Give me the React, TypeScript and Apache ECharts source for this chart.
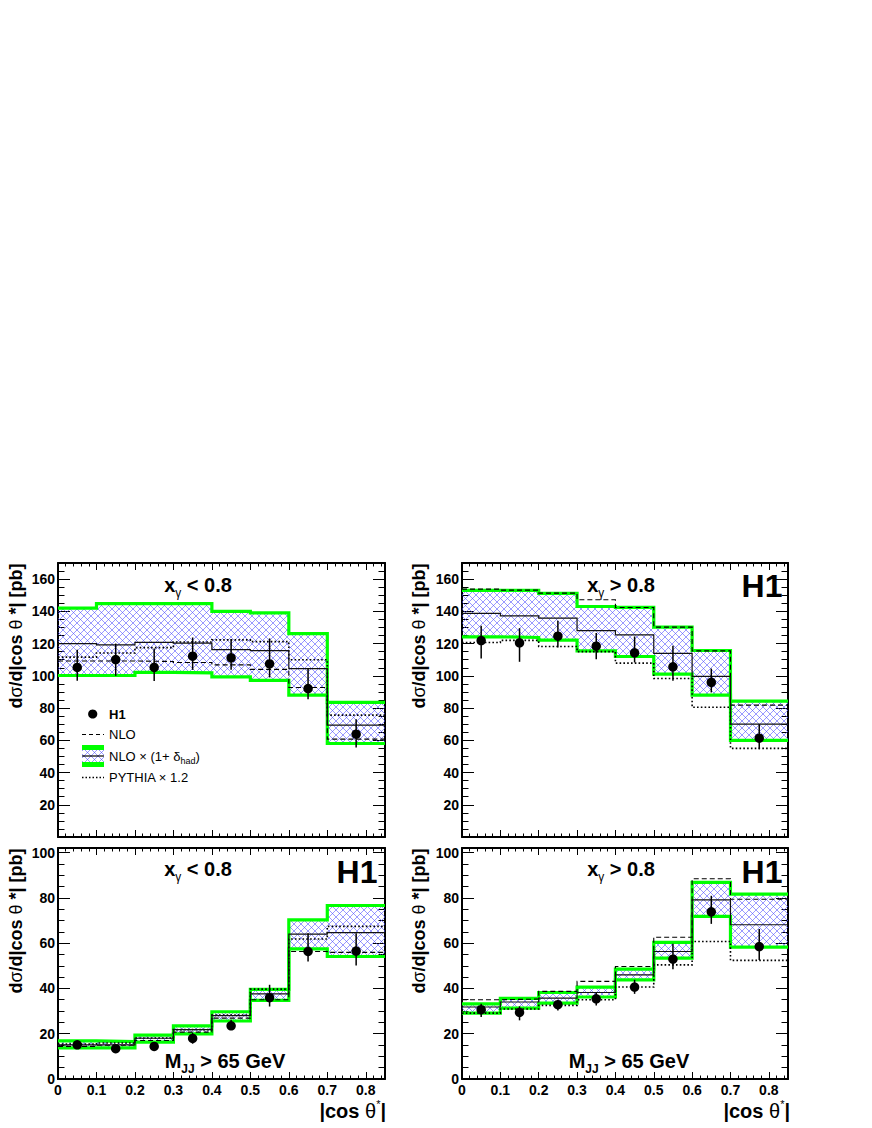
import React, { useEffect, useRef } from "react";
import * as echarts from "echarts";

// ---------------- data ----------------
const binEdges = [0, 0.1, 0.2, 0.3, 0.4, 0.5, 0.6, 0.7, 0.85];
const binCenters = [0.05, 0.15, 0.25, 0.35, 0.45, 0.55, 0.65, 0.775];

// panel 1: x_gamma < 0.8 (all M_JJ)
const p1BandUp = [142, 144.8, 144.8, 144.8, 140, 139, 126.2, 83.5];
const p1BandLo = [100.2, 100.2, 102.2, 101.8, 99.3, 97.2, 88, 58];
const p1NloHad = [120, 119.2, 120.8, 120.3, 116.3, 115.6, 104.5, 69.4];
const p1Nlo = [109.2, 109.2, 108.9, 108.3, 106.8, 104, 92.8, 60.7];
const p1Pythia = [111.6, 114.2, 117.5, 121, 122.3, 121.2, 110, 75.6];
const p1H1 = [105.2, 110.1, 105.3, 112.2, 111.2, 107.4, 92.1, 63.8];
const p1ErrHi = [116.1, 120, 117, 123.8, 122.8, 123.2, 104.5, 73];
const p1ErrLo = [96.9, 100, 96.8, 103.7, 103.7, 99, 85.5, 55.5];

// panel 2: x_gamma > 0.8 (all M_JJ)
const p2BandUp = [153, 153, 151.1, 143, 142.5, 130.2, 115.7, 84.3];
const p2BandLo = [124.2, 123.8, 122.1, 115.5, 112, 101, 88, 60];
const p2NloHad = [138.7, 137.2, 135.8, 128, 125.4, 113.9, 99.6, 70];
const p2Nlo = [153.8, 153.2, 151.3, 147.2, 142.4, 130.2, 115.5, 81.8];
const p2Pythia = [120.7, 122, 118.2, 115, 107.9, 98.3, 80.5, 55];
const p2H1 = [121.9, 120.5, 124.6, 118.4, 114.3, 105.6, 96, 61.3];
const p2ErrHi = [131, 129.6, 134.1, 126.5, 124.4, 118.6, 104.5, 70];
const p2ErrLo = [110.8, 108.7, 117.6, 110.3, 108.3, 96.9, 89.7, 54.5];

// panel 3: x_gamma < 0.8, M_JJ > 65 GeV
const p3BandUp = [16.8, 16.5, 19.4, 23.5, 29.7, 39.6, 70.3, 76.6];
const p3BandLo = [13.7, 13.7, 16.3, 19.9, 25.6, 34.7, 57.5, 54.1];
const p3NloHad = [15.1, 15.1, 18, 21.8, 28, 37.6, 64, 64.6];
const p3Nlo = [14.4, 14.9, 17, 20.7, 26.9, 35, 56.3, 55.9];
const p3Pythia = [15.4, 15.9, 18.1, 21.8, 28.2, 39.7, 61.8, 67.4];
const p3H1 = [15.1, 13.4, 14.4, 17.9, 23.5, 35.9, 56.3, 56.5];
const p3ErrHi = [16.6, 14.4, 15.4, 20.3, 26.2, 41.6, 64.4, 64.4];
const p3ErrLo = [13.7, 11.9, 12.9, 15.6, 21.8, 32, 51.9, 50.1];

// panel 4: x_gamma > 0.8, M_JJ > 65 GeV
const p4BandUp = [33.2, 35.6, 38.2, 40.6, 48.5, 60.3, 86.8, 81.6];
const p4BandLo = [29.1, 31.3, 33.5, 36.2, 43.8, 53.4, 71.8, 58.2];
const p4NloHad = [31.8, 34, 35.7, 38.2, 46, 56.3, 79.1, 68.1];
const p4Nlo = [35, 35.3, 38.7, 43.1, 49.7, 62.6, 88.4, 79.4];
const p4Pythia = [29.1, 30.9, 32.5, 35, 40.6, 50.4, 60.7, 52.4];
const p4H1 = [30.6, 29.4, 32.8, 35.4, 40.6, 52.9, 73.8, 58.5];
const p4ErrHi = [33.2, 32.1, 35, 38.2, 43.8, 59.7, 80.9, 66.2];
const p4ErrLo = [27.4, 25.9, 30.3, 32.4, 37.6, 48.5, 68.5, 52.6];

const xMin = 0;
const xMax = 0.85;
const xStep = 0.1;
const xMinorStep = 0.02;
const yTopMax = 170;
const yBottomMax = 102;
const yStep = 20;
const yMinorStep = 5;

// ---------------- style ----------------
const FONT = '"Liberation Sans", Arial, Helvetica, sans-serif';
const GREEN = "#00ff00";

const hatchSvg =
  '<svg xmlns="http://www.w3.org/2000/svg" width="7" height="7">' +
  '<path d="M0 0L7 7M7 0L0 7M-1 6L1 8M6 -1L8 1M-1 1L1 -1M6 8L8 6" stroke="#4646ff" stroke-width="0.55" fill="none"/></svg>';
const hatch: any = {
  image: "data:image/svg+xml;charset=utf-8," + encodeURIComponent(hatchSvg),
  repeat: "repeat",
  imageWidth: 7,
  imageHeight: 7,
};

const panels = [
  { up: p1BandUp, lo: p1BandLo, had: p1NloHad, nlo: p1Nlo, py: p1Pythia, h1: p1H1, eh: p1ErrHi, el: p1ErrLo },
  { up: p2BandUp, lo: p2BandLo, had: p2NloHad, nlo: p2Nlo, py: p2Pythia, h1: p2H1, eh: p2ErrHi, el: p2ErrLo },
  { up: p3BandUp, lo: p3BandLo, had: p3NloHad, nlo: p3Nlo, py: p3Pythia, h1: p3H1, eh: p3ErrHi, el: p3ErrLo },
  { up: p4BandUp, lo: p4BandLo, had: p4NloHad, nlo: p4Nlo, py: p4Pythia, h1: p4H1, eh: p4ErrHi, el: p4ErrLo },
];

const gridRects = [
  { left: 58, top: 563, width: 327, height: 274 },
  { left: 462, top: 563, width: 326, height: 274 },
  { left: 58, top: 848, width: 327, height: 231 },
  { left: 462, top: 848, width: 326, height: 231 },
];

function stepPoints(vals: number[]) {
  const pts: number[][] = [];
  vals.forEach((v, i) => {
    pts.push([binEdges[i], v]);
    pts.push([binEdges[i + 1], v]);
  });
  return pts;
}

function buildOption() {
  const grid: any[] = gridRects.map((r) => ({ ...r, containLabel: false }));
  const xAxis: any[] = [];
  const yAxis: any[] = [];
  const series: any[] = [];

  gridRects.forEach((_, g) => {
    const isTop = g < 2;
    const frameLine = { show: true, onZero: false, lineStyle: { color: "#000", width: 2 } };
    const xBase = { type: "value", gridIndex: g, min: xMin, max: xMax, splitLine: { show: false } };
    const xMajor = {
      ...xBase,
      interval: xStep,
      axisLine: frameLine,
      axisTick: { show: true, inside: true, length: 7, lineStyle: { color: "#000", width: 1 } },
    };
    const xMinor = {
      ...xBase,
      interval: xMinorStep,
      axisLine: { show: false, onZero: false },
      axisLabel: { show: false },
      axisTick: { show: true, inside: true, length: 3.5, lineStyle: { color: "#000", width: 1 } },
    };
    // index 4g: bottom major (data axis)
    xAxis.push({
      ...xMajor,
      position: "bottom",
      axisLabel: {
        show: !isTop,
        showMaxLabel: false,
        color: "#000",
        fontWeight: "bold",
        fontSize: 14,
        fontFamily: FONT,
        margin: 4,
      },
    });
    xAxis.push({ ...xMinor, position: "bottom" });
    xAxis.push({ ...xMajor, position: "top", axisLabel: { show: false } });
    xAxis.push({ ...xMinor, position: "top" });

    const yBase = { type: "value", gridIndex: g, min: 0, max: isTop ? yTopMax : yBottomMax, splitLine: { show: false } };
    const yMajor = {
      ...yBase,
      interval: yStep,
      axisLine: frameLine,
      axisTick: { show: true, inside: true, length: 12, lineStyle: { color: "#000", width: 1 } },
    };
    const yMinor = {
      ...yBase,
      interval: yMinorStep,
      axisLine: { show: false, onZero: false },
      axisLabel: { show: false },
      axisTick: { show: true, inside: true, length: 6.5, lineStyle: { color: "#000", width: 1 } },
    };
    yAxis.push({
      ...yMajor,
      position: "left",
      axisLabel: {
        show: true,
        showMinLabel: !isTop,
        showMaxLabel: false,
        color: "#000",
        fontWeight: "bold",
        fontSize: 14,
        fontFamily: FONT,
        margin: 3,
      },
    });
    yAxis.push({ ...yMinor, position: "left" });
    yAxis.push({ ...yMajor, position: "right", axisLabel: { show: false } });
    yAxis.push({ ...yMinor, position: "right" });

    const p = panels[g];
    const xi = 4 * g;
    const yi = 4 * g;

    series.push({
      type: "custom",
      xAxisIndex: xi,
      yAxisIndex: yi,
      silent: true,
      z: 1,
      data: p.up.map((u, i) => [binEdges[i], binEdges[i + 1], p.lo[i], u]),
      renderItem: (params: any, api: any) => {
        const a = api.coord([api.value(0), api.value(3)]);
        const b = api.coord([api.value(1), api.value(2)]);
        return {
          type: "rect",
          shape: { x: a[0], y: a[1], width: b[0] - a[0], height: b[1] - a[1] },
          style: { fill: hatch },
        };
      },
    });

    const lineSeries = (vals: number[], color: string, width: number, type: any, z: number) => ({
      type: "line",
      xAxisIndex: xi,
      yAxisIndex: yi,
      silent: true,
      symbol: "none",
      showSymbol: false,
      z,
      data: stepPoints(vals),
      lineStyle: { color, width, type, cap: "butt", join: "miter" },
    });

    series.push(lineSeries(p.up, GREEN, 3.2, "solid", 2));
    series.push(lineSeries(p.lo, GREEN, 3.2, "solid", 2));
    series.push(lineSeries(p.nlo, "#000", 1.1, [5, 3], 3));
    series.push(lineSeries(p.py, "#000", 1.6, [1.6, 2.2], 3));
    series.push(lineSeries(p.had, "#111", 1.2, "solid", 3));

    series.push({
      type: "custom",
      xAxisIndex: xi,
      yAxisIndex: yi,
      silent: true,
      z: 4,
      data: binCenters.map((x, i) => [x, p.el[i], p.eh[i]]),
      renderItem: (params: any, api: any) => {
        const a = api.coord([api.value(0), api.value(1)]);
        const b = api.coord([api.value(0), api.value(2)]);
        return {
          type: "line",
          shape: { x1: a[0], y1: a[1], x2: b[0], y2: b[1] },
          style: { stroke: "#000", lineWidth: 1.5 },
        };
      },
    });

    series.push({
      type: "scatter",
      xAxisIndex: xi,
      yAxisIndex: yi,
      silent: true,
      z: 5,
      symbol: "circle",
      symbolSize: 9.5,
      itemStyle: { color: "#000", opacity: 1 },
      data: binCenters.map((x, i) => [x, p.h1[i]]),
    });
  });

  const main = { fontSize: 20, fontWeight: "bold", fontFamily: FONT, fill: "#000", lineHeight: 28, verticalAlign: "middle" };
  const sub = { fontSize: 12, fontWeight: "normal", fontFamily: FONT, fill: "#000", lineHeight: 12, verticalAlign: "bottom" };
  const subB = { ...sub, fontWeight: "bold" };

  const text = (x: number, y: number, t: string, rich: any, extra: any = {}) => ({
    type: "text",
    x,
    y,
    z: 100,
    silent: true,
    ...extra,
    style: { text: t, rich, align: "center", verticalAlign: "middle", fill: "#000", fontFamily: FONT, ...(extra.style || {}) },
  });

  const xgLow = "{m|x}{s|γ}{m| < 0.8}";
  const xgHigh = "{m|x}{s|γ}{m| > 0.8}";
  const mjj = "{m|M}{s|JJ}{m| > 65 GeV}";
  const h1Label = "{h|H1}";
  const h1Rich = { h: { fontSize: 32, fontWeight: "bold", fontFamily: FONT, fill: "#000" } };

  const yTitle = "{b|d}{n|σ}{b|/d|cos }{n|θ}{b| *| [pb]}";
  const yTitleRich = {
    b: { fontSize: 18, fontWeight: "bold", fontFamily: FONT, fill: "#000" },
    n: { fontSize: 18, fontWeight: "normal", fontFamily: FONT, fill: "#000" },
  };
  const xTitle = "{b||cos }{n|θ}{p|*}{b||}";
  const xTitleRich = {
    b: { fontSize: 20, fontWeight: "bold", fontFamily: FONT, fill: "#000", lineHeight: 26, verticalAlign: "middle" },
    n: { fontSize: 20, fontWeight: "normal", fontFamily: FONT, fill: "#000", lineHeight: 26, verticalAlign: "middle" },
    p: { fontSize: 11, fontWeight: "normal", fontFamily: FONT, fill: "#000", lineHeight: 11, verticalAlign: "top" },
  };

  const legN = { fontSize: 13, fontFamily: FONT, fill: "#000", lineHeight: 18, verticalAlign: "middle" };
  const legS = { fontSize: 9, fontFamily: FONT, fill: "#000", lineHeight: 9, verticalAlign: "bottom" };

  const graphic: any[] = [
    // panel labels
    text(198, 585, xgLow, { m: main, s: sub }),
    text(621, 585, xgHigh, { m: main, s: sub }),
    text(198, 869, xgLow, { m: main, s: sub }),
    text(621, 869, xgHigh, { m: main, s: sub }),
    text(762, 586, h1Label, h1Rich),
    text(357, 872, h1Label, h1Rich),
    text(762, 872, h1Label, h1Rich),
    text(225, 1061, mjj, { m: main, s: subB }),
    text(629, 1061, mjj, { m: main, s: subB }),
    // axis titles
    text(16, 636, yTitle, yTitleRich, { rotation: Math.PI / 2 }),
    text(419, 636, yTitle, yTitleRich, { rotation: Math.PI / 2 }),
    text(16, 921, yTitle, yTitleRich, { rotation: Math.PI / 2 }),
    text(419, 921, yTitle, yTitleRich, { rotation: Math.PI / 2 }),
    text(386, 1111, xTitle, xTitleRich, { style: { align: "right" } }),
    text(790, 1111, xTitle, xTitleRich, { style: { align: "right" } }),
    // legend
    { type: "circle", z: 100, silent: true, shape: { cx: 92.7, cy: 714, r: 4.6 }, style: { fill: "#000" } },
    text(109, 714, "{b|H1}", { b: { fontSize: 13, fontWeight: "bold", fontFamily: FONT, fill: "#000" } }, { style: { align: "left" } }),
    { type: "line", z: 100, silent: true, shape: { x1: 82, y1: 734.5, x2: 104, y2: 734.5 }, style: { stroke: "#000", lineWidth: 1, lineDash: [4, 3] } },
    text(109, 734.5, "{n|NLO}", { n: legN }, { style: { align: "left" } }),
    { type: "rect", z: 100, silent: true, shape: { x: 82, y: 745, width: 22, height: 22 }, style: { fill: hatch } },
    { type: "rect", z: 101, silent: true, shape: { x: 82, y: 745, width: 22, height: 5 }, style: { fill: GREEN } },
    { type: "rect", z: 101, silent: true, shape: { x: 82, y: 762, width: 22, height: 5 }, style: { fill: GREEN } },
    { type: "line", z: 102, silent: true, shape: { x1: 82, y1: 756, x2: 104, y2: 756 }, style: { stroke: "#000", lineWidth: 1.2 } },
    text(109, 756, "{n|NLO × (1+ δ}{s|had}{n|)}", { n: legN, s: legS }, { style: { align: "left" } }),
    { type: "line", z: 100, silent: true, shape: { x1: 82, y1: 777.5, x2: 104, y2: 777.5 }, style: { stroke: "#000", lineWidth: 1.4, lineDash: [1.5, 2] } },
    text(109, 777.5, "{n|PYTHIA × 1.2}", { n: legN }, { style: { align: "left" } }),
  ];

  return {
    animation: false,
    backgroundColor: "#fff",
    grid,
    xAxis,
    yAxis,
    series,
    graphic,
  };
}

export default function App() {
  const ref = useRef<HTMLDivElement>(null);
  useEffect(() => {
    if (!ref.current) return;
    const chart = echarts.init(ref.current, null, { renderer: "svg" });
    chart.setOption(buildOption() as any);
    return () => chart.dispose();
  }, []);
  return (
    <div
      ref={ref}
      style={{ position: "absolute", left: 0, top: 0, width: 872, height: 1128, background: "#fff" }}
    />
  );
}
